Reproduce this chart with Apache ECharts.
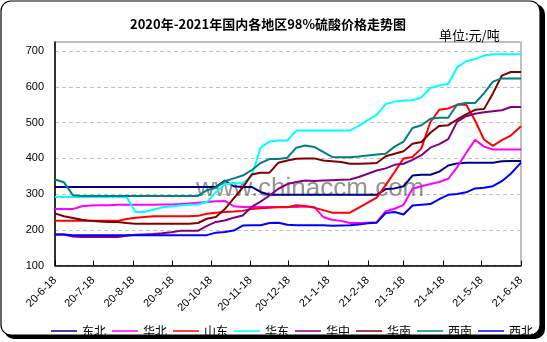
<!DOCTYPE html>
<html>
<head>
<meta charset="utf-8">
<script src="https://cdn.jsdelivr.net/npm/echarts@6/dist/echarts.min.js"></script>
<style>
  html, body { margin: 0; padding: 0; background: #fff; }
  #c { width: 547px; height: 342px; }
</style>
</head>
<body>
<div id="c"></div>
<script>
// Weekly sampling dates
const dates = [
  '2020-06-18','2020-06-25','2020-07-02','2020-07-09','2020-07-16','2020-07-23','2020-07-30',
  '2020-08-06','2020-08-13','2020-08-20','2020-08-27','2020-09-03','2020-09-10','2020-09-17',
  '2020-09-24','2020-10-01','2020-10-08','2020-10-15','2020-10-22','2020-10-29','2020-11-05',
  '2020-11-12','2020-11-19','2020-11-26','2020-12-03','2020-12-10','2020-12-17','2020-12-24',
  '2020-12-31','2021-01-07','2021-01-14','2021-01-21','2021-01-28','2021-02-04','2021-02-11',
  '2021-02-18','2021-02-25','2021-03-04','2021-03-11','2021-03-18','2021-03-25','2021-04-01',
  '2021-04-08','2021-04-15','2021-04-22','2021-04-29','2021-05-06','2021-05-13','2021-05-20',
  '2021-05-27','2021-06-03','2021-06-10','2021-06-18'
];

// Month tick labels (yy-m-d)
const tickLabels = ['20-6-18','20-7-18','20-8-18','20-9-18','20-10-18','20-11-18','20-12-18',
                    '21-1-18','21-2-18','21-3-18','21-4-18','21-5-18','21-6-18'];

const seriesNames = ['东北','华北','山东','华东','华中','华南','西南','西北'];

// Prices, yuan per tonne
const dongbei = [320,320,320,320,320,320,320,320,320,320,320,320,320,320,320,320,320,320,320,
  338,322,320,320,306,298,298,298,298,298,298,298,298,298,298,298,298,298,
  314,316,322,352,354,354,363,380,386,388,388,388,388,392,393,393];
const huabei = [258,258,258,266,268,269,269,270,270,270,270,270,271,271,272,274,276,278,280,
  281,266,264,264,264,264,264,264,264,265,264,236,228,225,219,219,220,221,
  252,259,270,315,322,328,334,343,375,415,452,433,425,425,425,425];
const shandong = [225,225,225,225,225,225,225,225,230,234,236,238,238,238,238,238,239,245,248,
  250,251,253,258,260,262,263,263,269,267,262,255,248,248,248,262,276,290,
  325,362,400,404,428,502,536,540,550,551,506,453,435,451,464,490];
const huadong = [292,292,292,292,292,292,292,292,292,250,250,256,263,265,268,270,271,278,305,
  328,330,331,350,430,447,450,450,478,478,478,478,478,478,478,492,507,522,
  552,559,562,563,571,597,604,609,655,672,678,688,692,692,692,692];
const huazhong = [187,187,181,180,180,180,180,180,183,186,187,188,190,193,197,197,197,211,222,
  226,234,240,264,279,296,315,328,334,338,337,338,339,340,341,348,357,366,
  372,382,385,396,409,430,440,454,503,518,525,529,532,535,544,544];
const huanan = [246,238,233,228,225,223,222,222,219,217,217,217,217,217,217,217,219,231,236,
  258,288,318,355,360,360,388,394,399,400,400,394,392,390,385,385,386,387,
  406,413,420,441,446,472,491,493,509,523,536,538,582,632,642,642];
const xinan = [341,333,297,295,295,295,295,295,295,295,295,295,295,295,295,295,295,311,318,
  336,344,352,367,387,398,398,402,430,436,432,418,404,403,403,405,408,411,
  413,433,447,485,493,511,514,514,551,555,555,582,615,624,624,624];
const xibei = [187,187,185,185,185,185,185,185,185,185,185,185,185,185,185,185,185,185,192,
  194,198,212,213,213,219,220,214,213,213,213,213,211,212,213,215,218,220,
  247,250,243,268,270,272,286,298,300,305,316,318,322,336,357,388];

const seriesValues = [dongbei, huabei, shandong, huadong, huazhong, huanan, xinan, xibei];
const colors = ['#000080','#FF00FF','#FF0000','#00FFFF','#800080','#800000','#008080','#0000FF'];

// Dates become day offsets from the first sample so the x axis spaces them by calendar time
const DAY = 86400000;
const t0 = Date.parse(dates[0]);
const xDays = dates.map(s => Math.round((Date.parse(s) - t0) / DAY));
const tickDays = tickLabels.map(l => {
  const [y, m, d] = l.split('-').map(Number);
  return Math.round((Date.UTC(2000 + y, m - 1, d) - t0) / DAY);
});

const chart = echarts.init(document.getElementById('c'), null, { renderer: 'canvas' });

const labelFont = '"Liberation Sans", Arial, sans-serif';
const cjkFont = '"Noto Sans CJK SC", "Noto Sans", sans-serif';

chart.setOption({
  animation: false,
  backgroundColor: 'transparent',
  graphic: [
    // outer frame with a dark offset shadow
    { type: 'rect', z: -20, silent: true,
      shape: { x: 4, y: 4, width: 541, height: 335, r: 10 },
      style: { fill: '#000' } },
    { type: 'rect', z: -19, silent: true,
      shape: { x: 1, y: 1, width: 539, height: 334, r: 10 },
      style: { fill: '#fff', stroke: '#000', lineWidth: 1.2 } },
    { type: 'text', z: 5, silent: true, x: 268, y: 24,
      style: { text: '2020年-2021年国内各地区98%硫酸价格走势图', fill: '#000',
               font: 'bold 13px ' + cjkFont, textAlign: 'center', textVerticalAlign: 'middle' } },
    { type: 'text', z: 5, silent: true, x: 439, y: 35,
      style: { text: '单位:元/吨', fill: '#000',
               font: '13px ' + cjkFont, textAlign: 'left', textVerticalAlign: 'middle' } },
    { type: 'text', z: 1, silent: true, x: 196, y: 189,
      style: { text: 'www.chinaccm.com', fill: 'rgba(105,105,105,0.72)',
               font: '26px ' + labelFont, textAlign: 'left', textVerticalAlign: 'middle' } }
  ],
  grid: {
    left: 55, right: 26, top: 42, bottom: 76.5,
    show: true, borderColor: '#808080', borderWidth: 1, backgroundColor: 'transparent'
  },
  legend: {
    data: seriesNames,
    left: 46, top: 320,
    icon: 'rect', itemWidth: 26, itemHeight: 1.5, itemGap: 6,
    textStyle: { color: '#000', fontSize: 12, fontFamily: cjkFont }
  },
  xAxis: {
    type: 'value', min: 0, max: 365,
    splitLine: { show: false },
    axisLine: { show: true, lineStyle: { color: '#000', width: 1.5 } },
    axisTick: { show: true, inside: true, length: 5, customValues: tickDays,
                lineStyle: { color: '#000', width: 1 } },
    axisLabel: {
      customValues: tickDays, rotate: 45, margin: 13,
      color: '#000', fontSize: 11, fontFamily: labelFont,
      formatter: v => { const i = tickDays.indexOf(Math.round(v)); return i >= 0 ? tickLabels[i] : ''; }
    }
  },
  yAxis: {
    type: 'value', min: 100, max: 726, interval: 100,
    axisLine: { show: true, lineStyle: { color: '#000', width: 1.5 } },
    axisTick: { show: false },
    splitLine: { show: true, lineStyle: { color: '#c0c0c0', type: [4, 3], width: 1 } },
    axisLabel: {
      margin: 11, color: '#000', fontSize: 11, fontFamily: labelFont,
      showMaxLabel: false,
      formatter: v => (v % 100 === 0 ? String(v) : '')
    }
  },
  series: seriesNames.map((name, k) => ({
    name, type: 'line', z: 2,
    showSymbol: false, symbol: 'none',
    color: colors[k],
    lineStyle: { width: 2, color: colors[k] },
    data: xDays.map((d, i) => [d, seriesValues[k][i]])
  }))
});
</script>
</body>
</html>
